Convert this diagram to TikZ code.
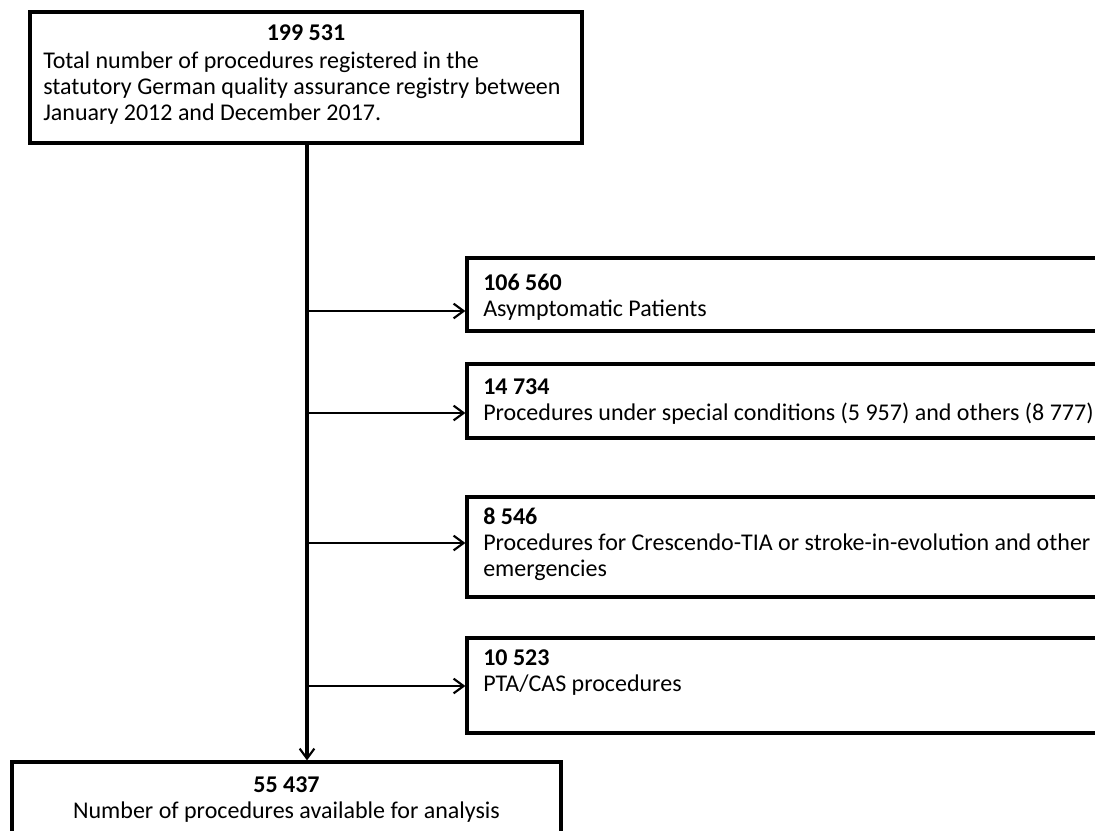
\documentclass[tikz,border=0pt]{standalone}
\usepackage{fontspec}
\setmainfont{Carlito}
\usetikzlibrary{arrows.meta,fit}
\begin{document}
\begin{tikzpicture}[x=0.75pt,y=-0.75pt,
  box/.style={draw, line width=2.4pt, inner sep=0pt},
  txt/.style={anchor=base west, inner sep=0pt, align=left, font=\fontsize{18}{19.5}\selectfont},
  ctxt/.style={anchor=base, inner sep=0pt, align=center, font=\fontsize{18}{19.5}\selectfont},
  trunk/.style={line width=2.4pt},
  tip/.style={-{Straight Barb[length=7.5pt,width=11pt,line width=1.6pt]}},
  branch/.style={line width=1.6pt, tip}]
\useasboundingbox (0,0) rectangle (1095,831);
\clip (0,0) rectangle (1095,831);
\fill[white] (0,0) rectangle (1095,831);
% boxes
\node[box, fit={(30,12) (582,143)}] (top) {};
\node[box, fit={(467,258) (1120,331)}] (b1) {};
\node[box, fit={(467,364) (1120,438)}] (b2) {};
\node[box, fit={(467,497) (1120,597)}] (b3) {};
\node[box, fit={(467,638) (1120,733)}] (b4) {};
\node[box, fit={(12,762) (561,860)}] (bot) {};
% texts (base anchor = baseline of the last line)
\node[ctxt, font=\fontsize{18}{19.5}\selectfont\bfseries] (topn) at (306,41) {199 531};
\node[txt] (topt) at (43,121) {Total number of procedures registered in the\\statutory German quality assurance registry between\\January 2012 and December 2017.};
\node[txt] (t1) at (483,316) {\textbf{106 560}\\Asymptomatic Patients};
\node[txt] (t2) at (483,420) {\textbf{14 734}\\Procedures under special conditions (5 957) and others (8 777)};
\node[txt] (t3) at (483,576) {\textbf{8 546}\\Procedures for Crescendo-TIA or stroke-in-evolution and other\\emergencies};
\node[txt] (t4) at (483,691) {\textbf{10 523}\\PTA/CAS procedures};
\node[ctxt] (bt) at (286.5,818) {\textbf{55 437}\\Number of procedures available for analysis};
% connectors
\coordinate (tx) at (307,0);
\draw[trunk, tip] (tx |- top.south) -- (tx |- bot.north);
\coordinate (j1) at (307,311);
\coordinate (j2) at (307,413);
\coordinate (j3) at (307,543);
\coordinate (j4) at (307,686);
\draw[branch] (j1) -- (j1 -| b1.west);
\draw[branch] (j2) -- (j2 -| b2.west);
\draw[branch] (j3) -- (j3 -| b3.west);
\draw[branch] (j4) -- (j4 -| b4.west);
\end{tikzpicture}
\end{document}
